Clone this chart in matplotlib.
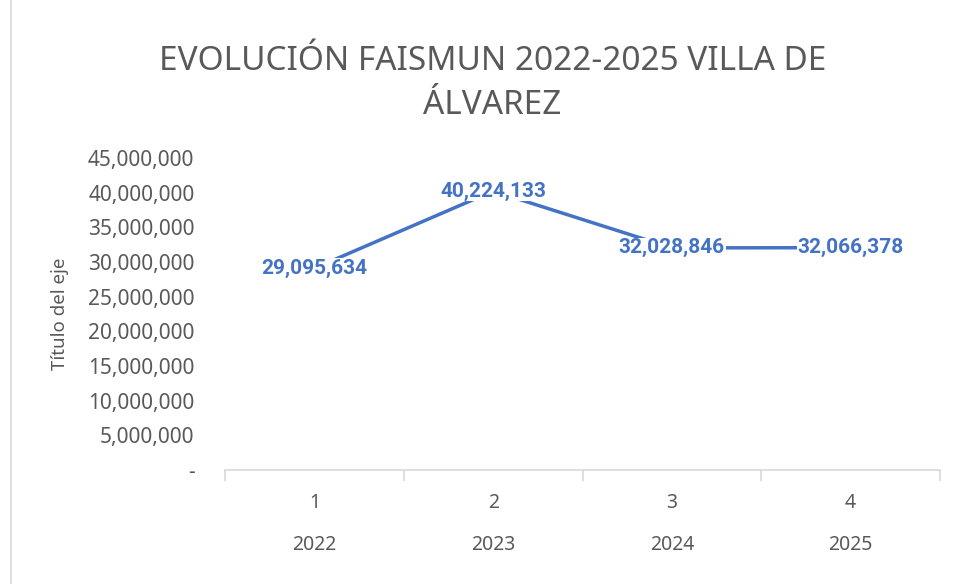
import numpy as np
import matplotlib.pyplot as plt
from matplotlib.ticker import FuncFormatter
from matplotlib.lines import Line2D

categorias = [1, 2, 3, 4]
anios = ['2022', '2023', '2024', '2025']
montos = [29095634, 40224133, 32028846, 32066378]

gris = '#595959'
azul = '#4472C4'
plt.rcParams['font.family'] = ['Noto Sans', 'DejaVu Sans']

fig = plt.figure(figsize=(9.56, 5.84), dpi=100)
ax = fig.add_axes([0.2354, 0.1952, 0.7479, 0.5343])

x = np.arange(len(categorias))
ax.plot(x, montos, color=azul, linewidth=2.5, zorder=2)

# etiquetas de datos en negrita
for xi, v in zip(x, montos):
    ax.text(xi, v, f'{v:,}', ha='center', va='center', color=azul,
            fontsize=15, fontweight='bold', family=['Roboto', 'DejaVu Sans'], zorder=3,
            bbox=dict(facecolor='white', edgecolor='none', pad=0.5))

ax.set_xlim(-0.5, len(categorias) - 0.5)
ax.set_ylim(0, 45000000)
ax.set_yticks(np.arange(0, 45000001, 5000000))
ax.yaxis.set_major_formatter(FuncFormatter(lambda v, p: '-' if v == 0 else f'{int(v):,}'))
ax.tick_params(axis='y', length=0, labelsize=15, labelcolor=gris, pad=22)

# eje x con dos niveles de etiquetas
ax.set_xticks(np.arange(-0.5, len(categorias), 1))
ax.set_xticklabels([])
ax.tick_params(axis='x', direction='out', length=8, color='#D9D9D9', width=1.2)
for xi, c, a in zip(x, categorias, anios):
    ax.text(xi, -0.107, str(c), transform=ax.get_xaxis_transform(),
            ha='center', va='center', color=gris, fontsize=14)
    ax.text(xi, -0.24, a, transform=ax.get_xaxis_transform(),
            ha='center', va='center', color=gris, fontsize=14)

for s in ['top', 'right', 'left']:
    ax.spines[s].set_visible(False)
ax.spines['bottom'].set_color('#D9D9D9')
ax.spines['bottom'].set_linewidth(1.2)

ax.set_ylabel('Título del eje', color=gris, fontsize=13.5, labelpad=14)

fig.text(0.515, 0.895, 'EVOLUCIÓN FAISMUN 2022-2025 VILLA DE', ha='center', va='center',
         color=gris, fontsize=24)
fig.text(0.515, 0.82, 'ÁLVAREZ', ha='center', va='center', color=gris, fontsize=24)

fig.add_artist(Line2D([0.011, 0.011], [0, 1], transform=fig.transFigure,
                      color='#D9D9D9', linewidth=1.2))

fig.savefig('out.png', dpi=100)
